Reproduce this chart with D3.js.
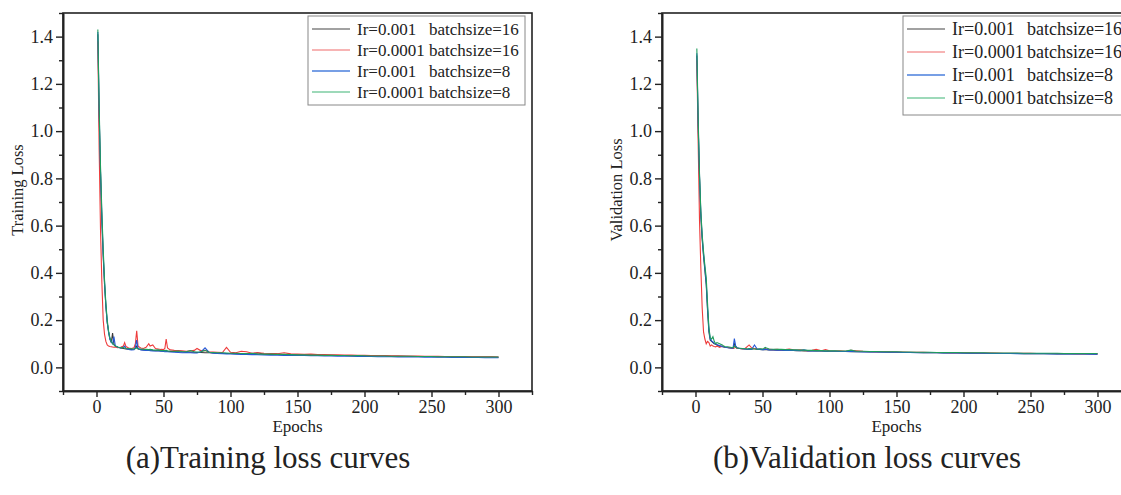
<!DOCTYPE html>
<html>
<head>
<meta charset="utf-8">
<script src="https://cdn.jsdelivr.net/npm/d3@7"></script>
<style>
  body { margin: 0; background: #fff; }
  text { font-family: "Liberation Serif", "Times New Roman", serif; fill: #222; }
</style>
</head>
<body>
<script>
// epochs sampled from the curves (shared by both panels)
const epochs = [1,2,3,4,5,6,7,8,9,10,11,12,13,14,15,16,
  18,20,21,22,24,26,28,29,30,31,
  33,35,37,39,40,42,44,46,48,50,
  51,52,53,55,58,61,64,67,70,73,
  75,78,81,84,87,90,94,97,100,104,
  108,112,116,120,125,130,135,140,145,150,
  155,160,165,170,175,180,185,190,195,200,
  205,210,215,220,225,230,235,240,245,250,
  255,260,265,270,275,280,285,290,295,300];

const lrLabels = ["Ir=0.001", "Ir=0.0001", "Ir=0.001", "Ir=0.0001"];
const bsLabels = ["batchsize=16", "batchsize=16", "batchsize=8", "batchsize=8"];
const lineColors = ["#3a3a3a", "#ee3b3b", "#2457d6", "#1f9d5c"];
const legendColors = ["#444444", "#f06a6a", "#4a7fdc", "#3cb474"];

const xTicks = [0, 50, 100, 150, 200, 250, 300];
const xMinor = [-25, 25, 75, 125, 175, 225, 275, 325];
const yTicks = [0, 0.2, 0.4, 0.6, 0.8, 1.0, 1.2, 1.4];
const yMinor = [-0.1, 0.1, 0.3, 0.5, 0.7, 0.9, 1.1, 1.3, 1.5];

// training loss
const trainLr001Bs16 = [1.41,1.06,0.82,0.62,0.47,0.35,0.26,0.19,0.15,0.12,0.105,0.145,0.098,0.09,0.087,0.085,
  0.082,0.08,0.079,0.078,0.077,0.076,0.078,0.08,0.09,0.078,
  0.076,0.074,0.075,0.073,0.074,0.072,0.071,0.072,0.07,0.069,
  0.069,0.07,0.068,0.067,0.067,0.066,0.065,0.066,0.064,0.064,
  0.063,0.063,0.062,0.062,0.061,0.06,0.06,0.059,0.059,0.058,
  0.058,0.057,0.057,0.062,0.056,0.055,0.055,0.054,0.054,0.053,
  0.053,0.052,0.052,0.051,0.051,0.050,0.050,0.049,0.049,0.049,
  0.048,0.048,0.048,0.047,0.047,0.047,0.046,0.046,0.046,0.046,
  0.045,0.045,0.045,0.045,0.044,0.044,0.044,0.044,0.044,0.043];
const trainLr0001Bs16 = [1.38,0.92,0.58,0.36,0.20,0.14,0.11,0.095,0.09,0.088,0.087,0.086,0.085,0.086,0.084,0.083,
  0.085,0.09,0.105,0.088,0.082,0.08,0.083,0.10,0.155,0.09,
  0.082,0.08,0.085,0.10,0.09,0.095,0.08,0.078,0.076,0.075,
  0.08,0.12,0.082,0.074,0.072,0.071,0.07,0.068,0.07,0.072,
  0.08,0.07,0.072,0.066,0.065,0.064,0.063,0.085,0.064,0.062,
  0.068,0.066,0.06,0.062,0.06,0.059,0.058,0.062,0.057,0.056,
  0.055,0.056,0.054,0.054,0.053,0.053,0.052,0.052,0.051,0.051,
  0.050,0.050,0.050,0.049,0.049,0.048,0.048,0.048,0.047,0.047,
  0.047,0.046,0.046,0.046,0.046,0.045,0.045,0.045,0.045,0.044];
const trainLr001Bs8 = [1.42,1.08,0.83,0.64,0.48,0.36,0.26,0.19,0.15,0.12,0.108,0.10,0.13,0.092,0.088,0.085,
  0.082,0.085,0.09,0.08,0.076,0.074,0.075,0.085,0.115,0.08,
  0.074,0.073,0.072,0.073,0.071,0.07,0.07,0.069,0.068,0.067,
  0.066,0.067,0.066,0.065,0.064,0.063,0.062,0.063,0.062,0.061,
  0.061,0.066,0.083,0.064,0.06,0.059,0.058,0.057,0.057,0.056,
  0.055,0.055,0.054,0.054,0.053,0.052,0.052,0.051,0.051,0.05,
  0.050,0.049,0.049,0.048,0.048,0.047,0.047,0.047,0.046,0.046,
  0.046,0.045,0.045,0.045,0.044,0.044,0.044,0.044,0.043,0.043,
  0.043,0.043,0.042,0.042,0.042,0.042,0.042,0.041,0.041,0.041];
const trainLr0001Bs8 = [1.43,1.10,0.85,0.66,0.50,0.37,0.27,0.20,0.155,0.125,0.11,0.10,0.095,0.09,0.088,0.086,
  0.083,0.084,0.082,0.081,0.08,0.079,0.078,0.08,0.082,0.079,
  0.078,0.077,0.076,0.075,0.076,0.074,0.073,0.074,0.072,0.071,
  0.071,0.072,0.07,0.069,0.068,0.069,0.067,0.066,0.071,0.066,
  0.065,0.066,0.072,0.064,0.063,0.062,0.062,0.061,0.06,0.06,
  0.059,0.058,0.06,0.057,0.056,0.056,0.055,0.055,0.054,0.053,
  0.053,0.052,0.052,0.051,0.051,0.050,0.050,0.049,0.050,0.049,
  0.048,0.048,0.048,0.047,0.047,0.047,0.047,0.046,0.046,0.046,
  0.045,0.045,0.045,0.045,0.045,0.044,0.044,0.044,0.044,0.044];

// validation loss
const valLr001Bs16 = [1.32,1.02,0.80,0.64,0.54,0.47,0.41,0.35,0.24,0.15,0.115,0.11,0.105,0.1,0.098,0.095,
  0.09,0.088,0.086,0.085,0.084,0.082,0.08,0.10,0.09,0.082,
  0.08,0.079,0.078,0.077,0.078,0.077,0.08,0.076,0.076,0.075,
  0.075,0.076,0.075,0.074,0.074,0.073,0.073,0.072,0.072,0.072,
  0.071,0.071,0.07,0.07,0.07,0.069,0.069,0.068,0.068,0.068,
  0.067,0.067,0.066,0.066,0.066,0.065,0.065,0.065,0.064,0.064,
  0.063,0.063,0.063,0.062,0.062,0.062,0.061,0.061,0.061,0.061,
  0.060,0.060,0.060,0.060,0.059,0.059,0.059,0.059,0.058,0.058,
  0.058,0.058,0.058,0.057,0.057,0.057,0.057,0.057,0.057,0.056];
const valLr0001Bs16 = [1.30,0.95,0.62,0.42,0.25,0.15,0.12,0.10,0.11,0.105,0.09,0.095,0.09,0.088,0.087,0.09,
  0.085,0.09,0.088,0.085,0.084,0.083,0.08,0.082,0.085,0.08,
  0.08,0.078,0.08,0.09,0.095,0.082,0.08,0.078,0.077,0.076,
  0.077,0.08,0.078,0.076,0.075,0.076,0.074,0.075,0.078,0.074,
  0.073,0.074,0.072,0.071,0.072,0.076,0.07,0.075,0.07,0.069,
  0.07,0.068,0.072,0.07,0.068,0.067,0.066,0.066,0.066,0.065,
  0.065,0.064,0.064,0.064,0.063,0.063,0.063,0.062,0.062,0.062,
  0.062,0.061,0.061,0.061,0.061,0.060,0.060,0.060,0.060,0.060,
  0.059,0.059,0.059,0.059,0.059,0.059,0.058,0.058,0.058,0.058];
const valLr001Bs8 = [1.33,1.03,0.81,0.65,0.55,0.48,0.42,0.36,0.25,0.16,0.12,0.112,0.108,0.102,0.1,0.097,
  0.092,0.088,0.087,0.085,0.083,0.082,0.081,0.122,0.09,0.083,
  0.08,0.079,0.078,0.077,0.078,0.077,0.095,0.078,0.076,0.075,
  0.075,0.077,0.076,0.074,0.074,0.073,0.073,0.072,0.073,0.072,
  0.072,0.071,0.074,0.07,0.07,0.069,0.069,0.068,0.068,0.068,
  0.067,0.067,0.067,0.066,0.065,0.065,0.065,0.064,0.064,0.064,
  0.063,0.063,0.062,0.062,0.062,0.062,0.061,0.061,0.061,0.060,
  0.060,0.060,0.060,0.059,0.059,0.059,0.059,0.058,0.058,0.058,
  0.058,0.058,0.057,0.057,0.057,0.057,0.057,0.057,0.056,0.056];
const valLr0001Bs8 = [1.35,1.05,0.82,0.66,0.56,0.49,0.43,0.38,0.27,0.17,0.125,0.12,0.13,0.11,0.10,0.105,
  0.10,0.095,0.09,0.088,0.087,0.085,0.083,0.09,0.085,0.082,
  0.081,0.08,0.079,0.078,0.08,0.079,0.078,0.077,0.079,0.078,
  0.08,0.085,0.082,0.078,0.077,0.076,0.076,0.075,0.075,0.074,
  0.074,0.073,0.073,0.072,0.072,0.071,0.071,0.07,0.07,0.07,
  0.069,0.069,0.073,0.068,0.068,0.067,0.067,0.066,0.066,0.066,
  0.065,0.065,0.064,0.064,0.064,0.063,0.063,0.063,0.063,0.062,
  0.062,0.062,0.062,0.061,0.061,0.061,0.061,0.061,0.060,0.060,
  0.060,0.060,0.060,0.060,0.059,0.059,0.059,0.059,0.059,0.059];

var W = 1121, H = 495;
var plotW = 469, plotH = 378;
var marginTop = 13, marginLeft = 63;

var svg = d3.select("body").append("svg")
    .attr("width", W)
    .attr("height", H);

var x = d3.scaleLinear().domain([-25, 325]).range([0, plotW]);
var y = d3.scaleLinear().domain([-0.1, 1.5]).range([plotH, 0]);

function drawPanel(offset, series, yLabel, caption, leg, id) {
    var g = svg.append("g").attr("transform", "translate(" + (offset + marginLeft) + "," + marginTop + ")");

    g.append("clipPath").attr("id", "clip" + id)
        .append("rect").attr("width", plotW).attr("height", plotH);

    // frame
    g.append("rect")
        .attr("width", plotW).attr("height", plotH)
        .attr("fill", "none").attr("stroke", "#222").attr("stroke-width", 1.6);

    var line = d3.line()
        .x(function(d, i) { return x(epochs[i]); })
        .y(function(d) { return y(d); });

    g.append("g").attr("clip-path", "url(#clip" + id + ")")
        .selectAll("path")
        .data(series)
        .enter()
        .append("path")
        .attr("d", line)
        .attr("fill", "none")
        .attr("stroke", function(d, i) { return lineColors[i]; })
        .attr("stroke-width", 1.1);

    // axes
    g.append("g").attr("transform", "translate(0," + plotH + ")")
        .call(d3.axisBottom(x).tickValues(xTicks).tickSize(6).tickSizeOuter(0).tickPadding(3));
    g.append("g").attr("transform", "translate(0," + plotH + ")")
        .call(d3.axisBottom(x).tickValues(xMinor).tickSize(4).tickSizeOuter(0).tickFormat(""));
    g.append("g")
        .call(d3.axisLeft(y).tickValues(yTicks).tickSize(7).tickSizeOuter(0).tickPadding(3).tickFormat(d3.format(".1f")));
    g.append("g")
        .call(d3.axisLeft(y).tickValues(yMinor).tickSize(4).tickSizeOuter(0).tickFormat(""));

    g.selectAll(".domain").attr("stroke", "#222").attr("stroke-width", 1.6);
    g.selectAll(".tick line").attr("stroke", "#222").attr("stroke-width", 1.4);
    g.selectAll(".tick text")
        .style("font-family", "'Liberation Serif', serif")
        .style("font-size", "18px")
        .attr("fill", "#222");

    // axis titles
    g.append("text")
        .attr("x", x(150)).attr("y", 432 - marginTop)
        .attr("text-anchor", "middle")
        .style("font-size", "17px")
        .text("Epochs");
    g.append("text")
        .attr("transform", "translate(" + (23 - marginLeft) + "," + (190 - marginTop) + ") rotate(-90)")
        .attr("text-anchor", "middle")
        .style("font-size", "16.5px")
        .text(yLabel);

    // legend
    var lg = g.append("g").attr("transform", "translate(" + (leg.x - offset - marginLeft) + "," + (leg.y - marginTop) + ")");
    lg.append("rect")
        .attr("width", leg.w).attr("height", leg.h)
        .attr("fill", "#fff").attr("stroke", "#888").attr("stroke-width", 1);
    lrLabels.forEach(function(lab, i) {
        var cy = leg.first + i * leg.step;
        lg.append("line")
            .attr("x1", 4).attr("x2", 42).attr("y1", cy).attr("y2", cy)
            .attr("stroke", legendColors[i]).attr("stroke-width", i == 2 ? 1.6 : 1.1);
        lg.append("text")
            .attr("x", 49).attr("y", cy).attr("dy", "0.35em")
            .style("font-size", leg.font + "px")
            .text(lab);
        lg.append("text")
            .attr("x", 49 + leg.gap).attr("y", cy).attr("dy", "0.35em")
            .style("font-size", leg.font + "px")
            .text(bsLabels[i]);
    });

    // caption
    svg.append("text")
        .attr("x", offset + leg.capX).attr("y", 468)
        .attr("text-anchor", "middle")
        .style("font-size", "31px")
        .text(caption);
}

drawPanel(0, [trainLr001Bs16, trainLr0001Bs16, trainLr001Bs8, trainLr0001Bs8],
    "Training Loss", "(a)Training loss curves",
    {x: 308, y: 16, w: 217, h: 89, first: 13, step: 21, font: 17, gap: 72, capX: 268}, "a");

drawPanel(599, [valLr001Bs16, valLr0001Bs16, valLr001Bs8, valLr0001Bs8],
    "Validation Loss", "(b)Validation loss curves",
    {x: 903, y: 16, w: 240, h: 99, first: 13, step: 23, font: 18, gap: 75, capX: 268}, "b");
</script>
</body>
</html>
